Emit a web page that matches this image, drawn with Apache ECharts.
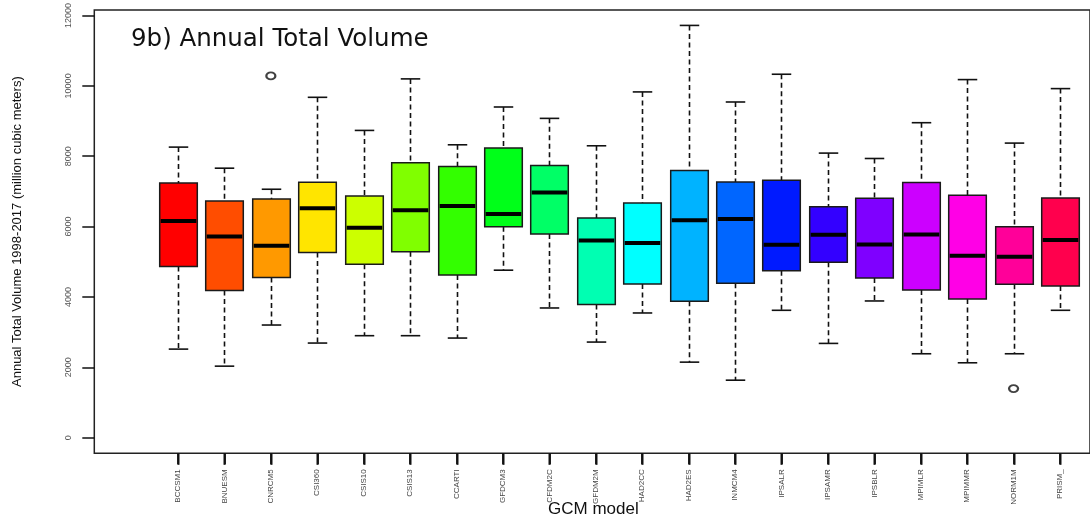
<!DOCTYPE html>
<html>
<head>
<meta charset="utf-8">
<title>Annual Total Volume by GCM model</title>
<script src="https://cdn.jsdelivr.net/npm/echarts@6/dist/echarts.min.js"></script>
<style>
  html, body { margin: 0; padding: 0; background: #ffffff; }
  #chart { width: 1090px; height: 520px; }
</style>
</head>
<body>
<div id="chart"></div>
<script>
// GCM models along the x axis
const categories = [
  'BCCSM1', 'BNUESM', 'CNRCM5', 'CSI360', 'CSIS10', 'CSIS13', 'CCARTI', 'GFDCM3', 'CFDM2C', 'GFDM2M',
  'HAD2CC', 'HAD2ES', 'INMCM4', 'IPSALR', 'IPSAMR', 'IPSBLR', 'MPIMLR', 'MPIMMR', 'NORM1M', 'PRISM_'
];

// Box statistics, annual total volume 1998-2017 (million cubic meters)
const whiskerLow  = [2515, 2031, 3199, 2687, 2896, 2896, 2829, 4756, 3683, 2715, 3541, 2145, 1633, 3617, 2677, 3882, 2383, 2127, 2383, 3617];
const quartile1   = [4861, 4177, 4547, 5259, 4927, 5278, 4622, 5990, 5781, 3779, 4366, 3873, 4386, 4737, 4984, 4537, 4196, 3940, 4357, 4310];
const medians     = [6152, 5715, 5449, 6512, 5961, 6456, 6579, 6351, 6958, 5602, 5525, 6171, 6209, 5477, 5762, 5487, 5772, 5164, 5136, 5611];
const quartile3   = [7234, 6721, 6778, 7253, 6864, 7804, 7698, 8222, 7727, 6237, 6664, 7589, 7262, 7311, 6560, 6798, 7243, 6883, 5990, 6807];
const whiskerHigh = [8250, 7652, 7054, 9664, 8724, 10187, 8316, 9389, 9066, 8288, 9817, 11705, 9531, 10319, 8080, 7927, 8943, 10167, 8364, 9911];

// Individual outlying years: [model, value]
const outliers = [['CNRCM5', 10272], ['NORM1M', 1395]];

// Y axis tick labels
const yTicks = [0, 2000, 4000, 6000, 8000, 10000, 12000];

// Rainbow palette, one fill per model
const boxColors = [
  '#FF0000', '#FF4D00', '#FF9900', '#FFE500', '#CCFF00', '#80FF00', '#33FF00', '#00FF19', '#00FF66', '#00FFB2',
  '#00FFFF', '#00B3FF', '#0066FF', '#001AFF', '#3300FF', '#7F00FF', '#CC00FF', '#FF00E6', '#FF0099', '#FF004D'
];

// Shared value range of both y axes (frame and boxes)
const Y_MIN = -443;
const Y_MAX = 12157;
const X_TICK_LENGTH = 11;

const boxData = categories.map((c, i) => [i, whiskerLow[i], quartile1[i], medians[i], quartile3[i], whiskerHigh[i]]);
const outlierData = outliers.map(([name, v]) => [categories.indexOf(name), v]);

// One box-and-whisker per model
function renderBox(params, api) {
  const i = api.value(0);
  const lo = api.coord([i, api.value(1)]);
  const q1 = api.coord([i, api.value(2)]);
  const md = api.coord([i, api.value(3)]);
  const q3 = api.coord([i, api.value(4)]);
  const hi = api.coord([i, api.value(5)]);
  const band = api.size([1, 0])[0];
  const bw = band * 0.81;
  const cw = band * 0.42;
  const cx = Math.round(md[0]) + 0.5;
  const dashStyle = { stroke: '#111', lineWidth: 1.6, lineDash: [5, 3.5] };
  const capStyle = { stroke: '#111', lineWidth: 1.6 };
  return {
    type: 'group',
    children: [
      { type: 'line', shape: { x1: cx, y1: hi[1], x2: cx, y2: q3[1] }, style: dashStyle },
      { type: 'line', shape: { x1: cx, y1: q1[1], x2: cx, y2: lo[1] }, style: dashStyle },
      { type: 'line', shape: { x1: cx - cw / 2, y1: hi[1], x2: cx + cw / 2, y2: hi[1] }, style: capStyle },
      { type: 'line', shape: { x1: cx - cw / 2, y1: lo[1], x2: cx + cw / 2, y2: lo[1] }, style: capStyle },
      {
        type: 'rect',
        shape: { x: cx - bw / 2, y: q3[1], width: bw, height: q1[1] - q3[1] },
        style: { fill: boxColors[params.dataIndex], stroke: '#1a1a1a', lineWidth: 1.5 }
      },
      { type: 'line', shape: { x1: cx - bw / 2 + 1, y1: md[1], x2: cx + bw / 2 - 1, y2: md[1] }, style: { stroke: '#000', lineWidth: 4 } }
    ]
  };
}

const chart = echarts.init(document.getElementById('chart'), null, { renderer: 'canvas' });

chart.setOption({
  backgroundColor: '#ffffff',
  animation: false,
  textStyle: { fontFamily: 'Liberation Sans, Arial, sans-serif' },
  grid: [
    // plot frame with the y axis
    { left: 94.3, top: 9.5, right: -6, bottom: 66.7, show: true, borderColor: '#222', borderWidth: 1.5, backgroundColor: 'transparent' },
    // box area
    { left: 154.8, top: 9.5, right: 6.8, bottom: 66.7 }
  ],
  xAxis: [
    { gridIndex: 0, type: 'value', min: 0, max: 1, show: false },
    {
      gridIndex: 1,
      type: 'category',
      position: 'bottom',
      data: categories,
      boundaryGap: true,
      axisLine: { show: false, onZero: false },
      axisTick: { show: true, alignWithLabel: true, length: X_TICK_LENGTH, lineStyle: { color: '#111', width: 1.8 } },
      axisLabel: { rotate: 90, fontSize: 8, color: '#444', margin: 16, interval: 0 },
      splitLine: { show: false }
    }
  ],
  yAxis: [
    {
      gridIndex: 0,
      type: 'value',
      min: Y_MIN,
      max: Y_MAX,
      name: 'Annual Total Volume 1998-2017 (million cubic meters)',
      nameLocation: 'middle',
      nameGap: 70,
      nameRotate: 90,
      nameTextStyle: { fontSize: 13, color: '#111' },
      axisLine: { show: false, onZero: false },
      axisTick: { show: true, length: 12, customValues: yTicks, lineStyle: { color: '#111', width: 1.5 } },
      axisLabel: { rotate: 90, fontSize: 9, color: '#555', margin: 21, customValues: yTicks, formatter: (v) => String(v) },
      splitLine: { show: false }
    },
    { gridIndex: 1, type: 'value', min: Y_MIN, max: Y_MAX, show: false }
  ],
  graphic: [
    {
      id: 'title',
      type: 'text',
      left: 131,
      top: 27,
      style: { text: '9b) Annual Total Volume', fontSize: 24.5, fontFamily: 'DejaVu Sans', fill: '#111' }
    },
    {
      id: 'xname',
      type: 'text',
      left: 548,
      top: 501,
      style: { text: 'GCM model', fontSize: 17, fontFamily: 'Liberation Sans', fill: '#111' }
    }
  ],
  series: [
    {
      type: 'custom',
      xAxisIndex: 1,
      yAxisIndex: 1,
      data: boxData,
      encode: { x: 0, y: [1, 2, 3, 4, 5] },
      renderItem: renderBox,
      clip: false
    },
    {
      type: 'scatter',
      xAxisIndex: 1,
      yAxisIndex: 1,
      data: outlierData,
      symbol: 'emptyCircle',
      symbolSize: [9, 7],
      itemStyle: { color: '#111', borderColor: '#111', borderWidth: 2 }
    }
  ]
});

// Category tick marks below the frame, placed through the box grid's scales,
// on their own layer above the rest of the chart
const xTicks = categories.map((c, i) => {
  const p = chart.convertToPixel({ gridIndex: 1 }, [i, Y_MIN]);
  const x = Math.round(p[0]) + 0.5;
  return {
    id: 'xtick-' + i,
    type: 'rect',
    zlevel: 1,
    z: 100,
    shape: { x: x - 1, y: p[1] + 0.5, width: 2, height: X_TICK_LENGTH },
    style: { fill: '#111' }
  };
});
chart.setOption({ graphic: xTicks });
</script>
</body>
</html>
